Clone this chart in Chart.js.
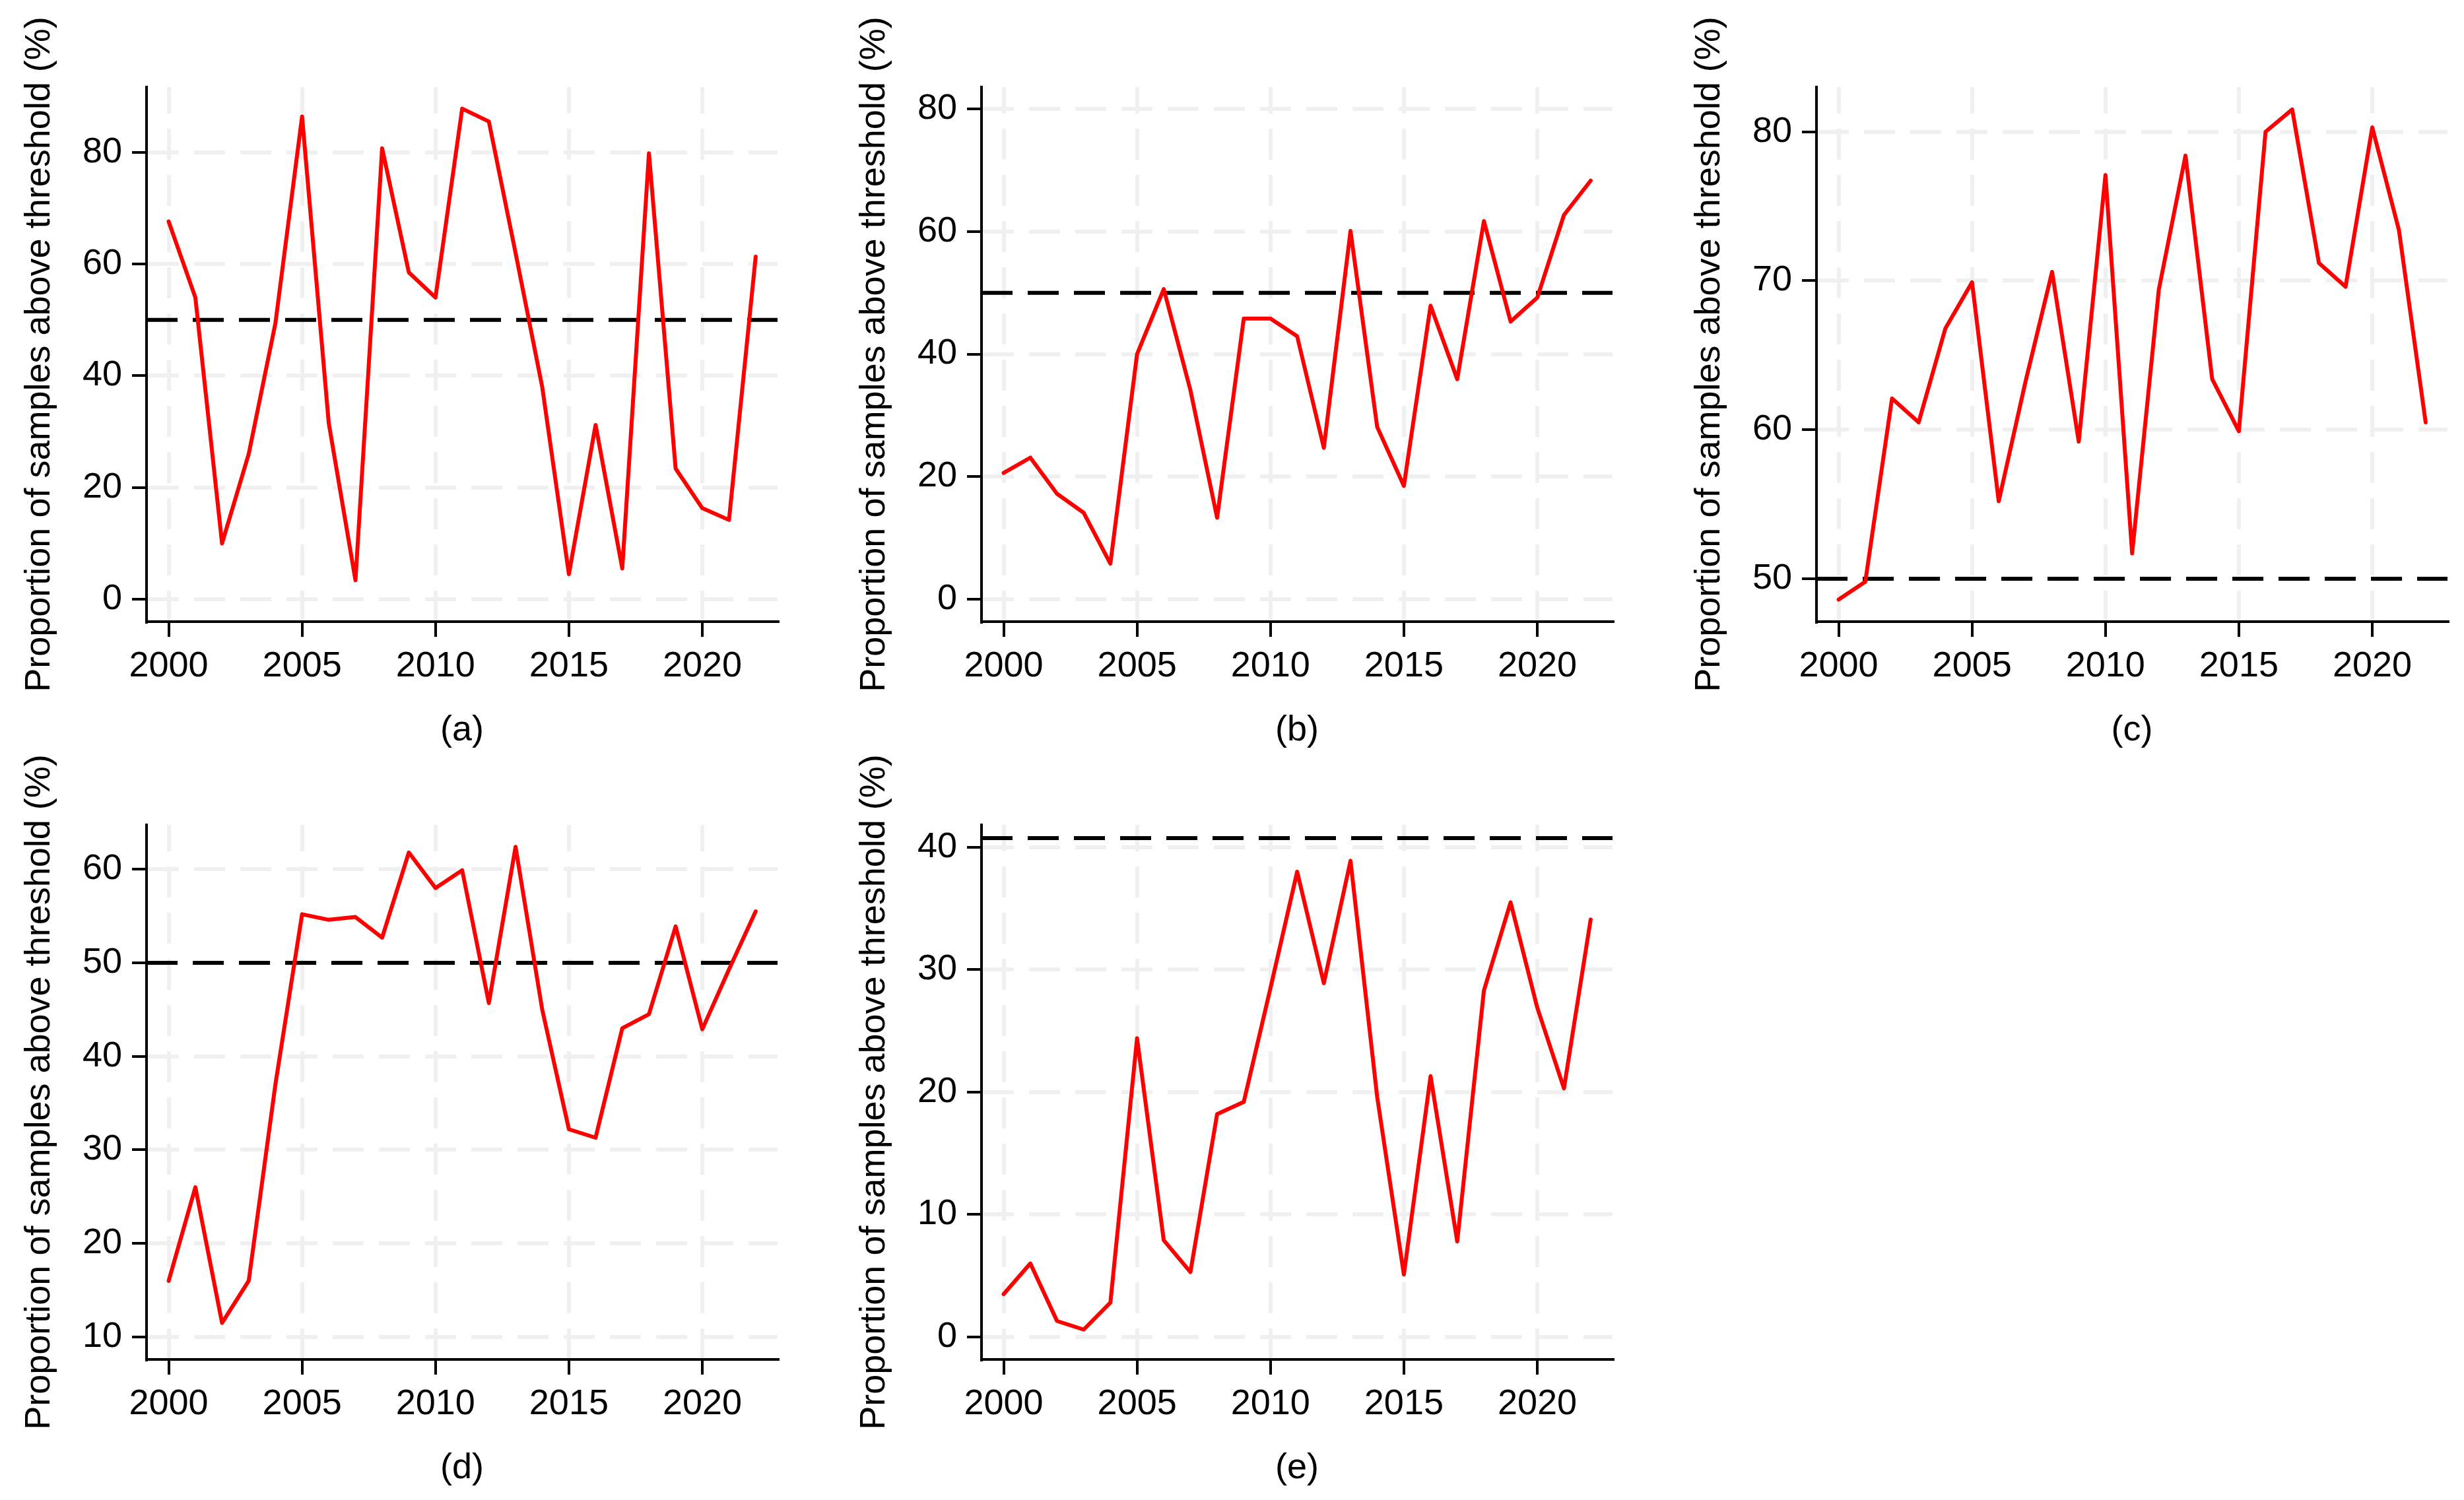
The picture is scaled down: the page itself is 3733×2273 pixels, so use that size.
<!DOCTYPE html>
<html>
<head>
<meta charset="utf-8">
<script src="https://cdn.jsdelivr.net/npm/chart.js@4.4.1/dist/chart.umd.min.js"></script>
<style>
  html, body { margin: 0; padding: 0; background: #fff; }
  body { width: 3733px; height: 2273px; position: relative; overflow: hidden; }
  canvas { position: absolute; }
</style>
</head>
<body>
<canvas id="panelA" width="1240" height="1140" style="left:0px;top:0px"></canvas>
<canvas id="panelB" width="1240" height="1140" style="left:1265px;top:0px"></canvas>
<canvas id="panelC" width="1240" height="1140" style="left:2530px;top:0px"></canvas>
<canvas id="panelD" width="1240" height="1140" style="left:0px;top:1118px"></canvas>
<canvas id="panelE" width="1240" height="1140" style="left:1265px;top:1118px"></canvas>
<script>
  // data
  const years = [2000, 2001, 2002, 2003, 2004, 2005, 2006, 2007, 2008, 2009, 2010, 2011,
    2012, 2013, 2014, 2015, 2016, 2017, 2018, 2019, 2020, 2021, 2022];

  const seriesA = [67.6, 54.0, 10.0, 26.0, 49.4, 86.4, 31.5, 3.4, 80.7, 58.5, 54.0, 87.8,
    85.5, 62.0, 38.0, 4.5, 31.2, 5.5, 79.8, 23.4, 16.3, 14.2, 61.3];
  const seriesB = [20.6, 23.1, 17.2, 14.1, 5.8, 40.0, 50.6, 34.1, 13.3, 45.8, 45.8, 42.9,
    24.7, 60.1, 28.1, 18.5, 47.9, 35.9, 61.7, 45.3, 49.2, 62.7, 68.3];
  const seriesC = [48.6, 49.8, 62.1, 60.5, 66.8, 69.9, 55.2, 63.2, 70.6, 59.2, 77.1, 51.7,
    69.4, 78.4, 63.4, 59.9, 80.0, 81.5, 71.2, 69.6, 80.3, 73.4, 60.5];
  const seriesD = [16.0, 26.0, 11.5, 16.0, 37.0, 55.2, 54.6, 54.9, 52.7, 61.8, 58.0, 59.9,
    45.7, 62.4, 45.0, 32.2, 31.3, 43.0, 44.5, 53.9, 42.9, 49.3, 55.5];
  const seriesE = [3.5, 6.0, 1.3, 0.6, 2.8, 24.4, 7.9, 5.3, 18.2, 19.2, 28.5, 38.0,
    28.9, 38.9, 19.6, 5.1, 21.3, 7.8, 28.3, 35.5, 26.9, 20.3, 34.1];

  const thresholds = [50, 50, 50, 50, 40.75];
  const captions = ["(a)", "(b)", "(c)", "(d)", "(e)"];

  const xTicks = [2000, 2005, 2010, 2015, 2020];
  const xRange = [1999.17, 2022.82];

  const yTicksA = [0, 20, 40, 60, 80];
  const yTicksB = [0, 20, 40, 60, 80];
  const yTicksC = [50, 60, 70, 80];
  const yTicksD = [10, 20, 30, 40, 50, 60];
  const yTicksE = [0, 10, 20, 30, 40];

  const yRangeA = [-4.0, 91.65];
  const yRangeB = [-3.66, 83.56];
  const yRangeC = [47.12, 83.0];
  const yRangeD = [7.59, 64.75];
  const yRangeE = [-1.84, 41.83];

  const yTitle = "Proportion of samples above threshold (%)";

  // look
  const red = "#ff0000";
  const gridGrey = "#f0f0f0";
  const dash = [47, 23];
  const fontFamily = "'Liberation Sans', Arial, sans-serif";
  const fontSize = 54;

  // plot box inside each canvas
  const box = { left: 222, top: 132, width: 956, height: 810 };

  const dashPeriod = dash[0] + dash[1];
  // vertical grid lines start with a dash at the x axis
  const xGridOffset = ((dash[0] - box.height) % dashPeriod + dashPeriod) % dashPeriod;

  const makePanel = (id, values, yTicks, yRange, threshold, caption) => {
    const canvas = document.getElementById(id);
    const font = { family: fontFamily, size: fontSize };
    new Chart(canvas, {
      type: "line",
      data: {
        datasets: [
          {
            data: years.map((y, i) => ({ x: y, y: values[i] })),
            borderColor: red,
            borderWidth: 6,
            borderJoinStyle: "round",
            borderCapStyle: "round",
            pointRadius: 0,
            tension: 0,
            fill: false,
          },
          {
            data: [{ x: xRange[0], y: threshold }, { x: xRange[1], y: threshold }],
            borderColor: "#000",
            borderWidth: 6,
            borderDash: dash,
            pointRadius: 0,
            fill: false,
          },
        ],
      },
      options: {
        responsive: false,
        animation: false,
        devicePixelRatio: 1,
        events: [],
        layout: {
          padding: { top: box.top, left: 0, bottom: 0, right: canvas.width - box.left - box.width },
        },
        plugins: { legend: { display: false }, tooltip: { enabled: false } },
        scales: {
          x: {
            type: "linear",
            min: xRange[0],
            max: xRange[1],
            afterBuildTicks: (s) => { s.ticks = xTicks.map((v) => ({ value: v })); },
            afterFit: (s) => { s.height = canvas.height - box.top - box.height; },
            ticks: {
              autoSkip: false,
              maxRotation: 0,
              padding: 13,
              color: "#000",
              font: font,
              callback: (v) => String(v),
            },
            grid: {
              color: gridGrey,
              lineWidth: 6,
              tickLength: 23,
              tickColor: "#000",
              tickWidth: 4,
            },
            border: { display: true, color: "#000", width: 4, dash: dash, dashOffset: xGridOffset },
            title: {
              display: true,
              text: caption,
              color: "#000",
              font: font,
              padding: { top: 0, bottom: 0 },
            },
          },
          y: {
            type: "linear",
            min: yRange[0],
            max: yRange[1],
            afterBuildTicks: (s) => { s.ticks = yTicks.map((v) => ({ value: v })); },
            afterFit: (s) => { s.width = box.left; },
            ticks: {
              padding: 15,
              color: "#000",
              font: font,
              callback: (v) => String(v),
            },
            grid: {
              color: gridGrey,
              lineWidth: 6,
              tickLength: 22,
              tickColor: "#000",
              tickWidth: 4,
            },
            border: { display: true, color: "#000", width: 4, dash: dash, dashOffset: 0 },
            title: {
              display: true,
              text: yTitle,
              color: "#000",
              font: font,
              padding: { top: 28, bottom: 0 },
            },
          },
        },
      },
    });
  };

  window.addEventListener("DOMContentLoaded", () => {
    makePanel("panelA", seriesA, yTicksA, yRangeA, thresholds[0], captions[0]);
    makePanel("panelB", seriesB, yTicksB, yRangeB, thresholds[1], captions[1]);
    makePanel("panelC", seriesC, yTicksC, yRangeC, thresholds[2], captions[2]);
    makePanel("panelD", seriesD, yTicksD, yRangeD, thresholds[3], captions[3]);
    makePanel("panelE", seriesE, yTicksE, yRangeE, thresholds[4], captions[4]);
  });
</script>
</body>
</html>
